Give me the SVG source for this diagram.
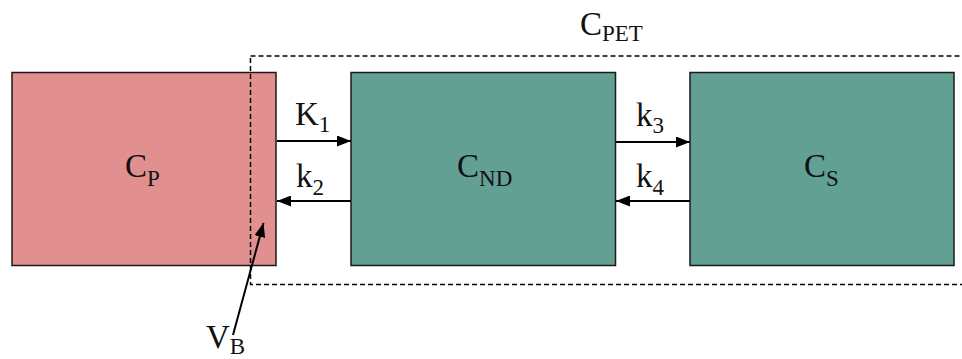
<svg xmlns="http://www.w3.org/2000/svg" width="962" height="359" viewBox="0 0 962 359">
<defs>
<style>
.box{stroke:#1a1a1a;stroke-width:1.5}
.pink{fill:#E18F8F}
.teal{fill:#62A094}
.lbl{font-family:"Liberation Serif","Times New Roman",serif;font-size:33px;fill:#111}
.sub{font-size:23px}
.conn{stroke:#000;stroke-width:2;fill:none}
.dash{stroke:#000;stroke-width:1.5;fill:none;stroke-dasharray:5 3}
</style>
<marker id="ah" viewBox="0 0 14 11" refX="14" refY="5.5" markerWidth="14" markerHeight="11" markerUnits="userSpaceOnUse" orient="auto">
<path d="M0,0 L14,5.5 L0,11 Z" fill="#000"/>
</marker>
</defs>
<rect width="962" height="359" fill="#fff"/>
<g id="node-cp">
<rect class="box pink" x="12" y="72.5" width="264" height="193"/>
<text class="lbl" x="125" y="177">C<tspan class="sub" dy="9">P</tspan></text>
</g>
<g id="node-cnd">
<rect class="box teal" x="351" y="72.5" width="264.5" height="193"/>
<text class="lbl" x="457" y="177">C<tspan class="sub" dy="9">ND</tspan></text>
</g>
<g id="node-cs">
<rect class="box teal" x="690" y="72.5" width="264" height="193"/>
<text class="lbl" x="804" y="177">C<tspan class="sub" dy="9">S</tspan></text>
</g>
<g id="region-cpet">
<rect class="dash" x="250.5" y="56" width="715" height="228.5"/>
<text class="lbl" x="580" y="35">C<tspan class="sub" dy="6">PET</tspan></text>
</g>
<g id="label-vb">
<text class="lbl" x="206" y="348">V<tspan class="sub" dy="6">B</tspan></text>
</g>
<g id="connectors">
<line class="conn" x1="277" y1="141" x2="351" y2="141" marker-end="url(#ah)"/>
<line class="conn" x1="351" y1="201" x2="277" y2="201" marker-end="url(#ah)"/>
<line class="conn" x1="616" y1="142" x2="690" y2="142" marker-end="url(#ah)"/>
<line class="conn" x1="690" y1="201" x2="616" y2="201" marker-end="url(#ah)"/>
<line class="conn" x1="233" y1="335" x2="263.5" y2="223" marker-end="url(#ah)"/>
<text class="lbl" x="295" y="125">K<tspan class="sub" dy="7">1</tspan></text>
<text class="lbl" x="296" y="187">k<tspan class="sub" dy="8">2</tspan></text>
<text class="lbl" x="636" y="126">k<tspan class="sub" dy="7">3</tspan></text>
<text class="lbl" x="636" y="187">k<tspan class="sub" dy="8">4</tspan></text>
</g>
</svg>
